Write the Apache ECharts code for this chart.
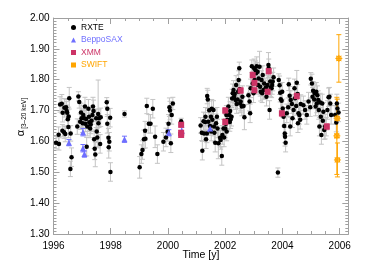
<!DOCTYPE html>
<html><head><meta charset="utf-8">
<script src="https://cdn.jsdelivr.net/npm/echarts@6/dist/echarts.min.js"></script>
<style>html,body{margin:0;padding:0;background:#fff}#c{width:365px;height:269px}</style>
</head><body><div id="c"></div>
<script>
// [time (yr), alpha, error]
const rxte = [
[1996.09,1.596,0.02],[1996.19,1.592,0.02],[1996.18,1.622,0.025],[1996.23,1.720,0.025],[1996.29,1.722,0.03],
[1996.32,1.693,0.03],[1996.31,1.635,0.02],[1996.37,1.630,0.02],[1996.41,1.624,0.025],[1996.38,1.709,0.03],
[1996.44,1.711,0.025],[1996.46,1.699,0.03],[1996.48,1.693,0.025],[1996.50,1.672,0.03],[1996.52,1.647,0.035],
[1996.53,1.681,0.03],[1996.55,1.740,0.035],[1996.59,1.511,0.025],[1996.63,1.549,0.03],[1996.60,1.626,0.025],
[1996.87,1.746,0.015],[1996.90,1.728,0.02],[1996.83,1.648,0.025],[1996.93,1.664,0.025],[1996.96,1.694,0.03],
[1996.98,1.675,0.03],[1997.02,1.659,0.03],[1997.04,1.686,0.03],[1997.07,1.675,0.025],[1997.10,1.713,0.03],
[1997.14,1.673,0.03],[1997.11,1.657,0.025],[1997.16,1.583,0.03],[1997.18,1.648,0.03],[1997.22,1.706,0.03],
[1997.24,1.680,0.03],[1997.25,1.662,0.03],[1997.28,1.642,0.03],[1997.30,1.655,0.03],[1997.33,1.667,0.035],
[1997.36,1.686,0.03],[1997.38,1.713,0.03],[1997.40,1.699,0.035],[1997.42,1.607,0.03],[1997.44,1.576,0.035],
[1997.46,1.558,0.04],[1997.49,1.675,0.03],[1997.51,1.632,0.035],[1997.53,1.613,0.03],[1997.56,1.689,0.11],
[1997.57,1.659,0.03],[1997.59,1.675,0.03],[1997.63,1.592,0.03],[1997.65,1.678,0.03],
[1997.86,1.727,0.015],[1997.88,1.706,0.025],[1997.88,1.657,0.03],[1997.92,1.612,0.03],[1997.93,1.581,0.035],
[1997.95,1.599,0.03],[1997.98,1.677,0.03],[1997.99,1.501,0.03],
[1998.48,1.689,0.01],
[1999.01,1.516,0.035],[1999.07,1.559,0.03],[1999.11,1.572,0.03],[1999.16,1.607,0.03],[1999.20,1.635,0.03],
[1999.21,1.609,0.03],[1999.26,1.715,0.025],[1999.33,1.657,0.03],[1999.39,1.657,0.03],[1999.47,1.706,0.03],
[1999.55,1.615,0.035],[1999.63,1.559,0.03],
[1999.84,1.599,0.03],[1999.93,1.613,0.03],[1999.99,1.631,0.03],[2000.02,1.657,0.03],[2000.05,1.711,0.03],
[2000.07,1.700,0.03],[2000.10,1.594,0.03],[2000.13,1.686,0.03],[2000.17,1.723,0.02],[2000.46,1.665,0.01],
[2001.14,1.652,0.025],[2001.18,1.628,0.025],[2001.20,1.570,0.03],[2001.24,1.665,0.03],[2001.26,1.626,0.025],
[2001.30,1.663,0.03],[2001.31,1.680,0.03],[2001.33,1.607,0.03],[2001.36,1.626,0.03],[2001.37,1.747,0.025],
[2001.39,1.736,0.03],[2001.41,1.664,0.03],[2001.44,1.701,0.03],[2001.47,1.650,0.03],[2001.50,1.680,0.03],
[2001.51,1.632,0.03],[2001.53,1.706,0.03],[2001.55,1.670,0.03],[2001.59,1.702,0.03],[2001.61,1.648,0.03],
[2001.62,1.628,0.03],[2001.65,1.596,0.03],[2001.68,1.659,0.03],[2001.71,1.680,0.03],[2001.73,1.642,0.03],
[2001.76,1.594,0.05],[2001.82,1.612,0.03],
[2001.84,1.605,0.03],[2001.88,1.553,0.03],[2001.90,1.621,0.03],[2001.94,1.642,0.03],[2001.96,1.613,0.03],
[2002.00,1.642,0.03],[2002.02,1.657,0.03],[2002.04,1.686,0.03],[2002.05,1.632,0.03],[2002.08,1.670,0.03],
[2002.11,1.713,0.03],[2002.14,1.686,0.03],[2002.16,1.663,0.03],[2002.17,1.699,0.03],[2002.19,1.672,0.03],
[2002.22,1.680,0.03],[2002.24,1.739,0.03],[2002.26,1.756,0.03],[2002.29,1.767,0.03],[2002.31,1.745,0.03],
[2002.33,1.754,0.03],[2002.36,1.734,0.03],[2002.38,1.783,0.03],[2002.40,1.721,0.03],[2002.43,1.736,0.03],
[2002.45,1.761,0.03],[2002.47,1.799,0.03],[2002.49,1.837,0.02],[2002.50,1.769,0.03],[2002.52,1.723,0.03],
[2002.54,1.729,0.03],[2002.58,1.713,0.03],[2002.60,1.745,0.035],[2002.64,1.715,0.03],[2002.67,1.678,0.04],
[2002.81,1.750,0.03],[2002.85,1.729,0.03],[2002.87,1.691,0.03],[2002.89,1.772,0.03],[2002.93,1.844,0.02],
[2002.95,1.815,0.03],[2002.96,1.788,0.03],[2002.99,1.756,0.03],[2003.01,1.837,0.03],[2003.03,1.799,0.03],
[2003.06,1.831,0.03],[2003.08,1.821,0.03],[2003.10,1.844,0.03],[2003.13,1.826,0.03],[2003.15,1.783,0.03],
[2003.17,1.804,0.04],[2003.20,1.842,0.05],[2003.22,1.777,0.03],[2003.24,1.761,0.03],[2003.27,1.799,0.03],
[2003.29,1.756,0.03],[2003.31,1.815,0.03],[2003.34,1.767,0.03],[2003.36,1.788,0.03],[2003.40,1.767,0.03],
[2003.42,1.775,0.03],[2003.44,1.745,0.03],[2003.48,1.783,0.03],[2003.51,1.848,0.04],[2003.52,1.837,0.03],
[2003.55,1.702,0.03],[2003.57,1.794,0.03],[2003.59,1.775,0.03],[2003.62,1.772,0.03],[2003.64,1.783,0.03],
[2003.66,1.794,0.03],[2003.69,1.808,0.03],
[2003.84,1.499,0.015],[2003.87,1.799,0.02],[2003.90,1.782,0.03],[2003.92,1.758,0.03],[2003.94,1.737,0.03],
[2003.97,1.732,0.03],[2003.99,1.761,0.03],[2004.01,1.707,0.03],[2004.04,1.680,0.03],[2004.06,1.650,0.03],
[2004.08,1.626,0.03],[2004.09,1.615,0.03],[2004.11,1.596,0.03],[2004.15,1.691,0.03],[2004.20,1.711,0.03],
[2004.22,1.785,0.02],[2004.25,1.748,0.03],[2004.27,1.648,0.03],[2004.29,1.734,0.03],[2004.33,1.721,0.03],
[2004.35,1.675,0.03],[2004.39,1.702,0.03],[2004.42,1.772,0.03],[2004.44,1.740,0.03],[2004.48,1.715,0.03],
[2004.50,1.790,0.04],[2004.53,1.754,0.03],[2004.54,1.659,0.03],[2004.56,1.691,0.03],[2004.59,1.686,0.03],
[2004.62,1.670,0.03],[2004.64,1.721,0.03],
[2004.73,1.717,0.03],[2004.79,1.702,0.03],[2004.85,1.686,0.03],[2004.91,1.729,0.03],[2004.97,1.711,0.03],
[2004.99,1.803,0.02],[2005.03,1.788,0.03],[2005.05,1.745,0.03],[2005.07,1.764,0.03],[2005.11,1.736,0.03],
[2005.13,1.756,0.03],[2005.16,1.713,0.03],[2005.18,1.761,0.03],[2005.20,1.723,0.03],[2005.22,1.750,0.03],
[2005.25,1.734,0.03],[2005.27,1.702,0.03],[2005.29,1.648,0.03],[2005.32,1.726,0.03],[2005.34,1.680,0.03],
[2005.36,1.621,0.03],[2005.39,1.723,0.03],[2005.41,1.667,0.03],[2005.43,1.696,0.03],[2005.46,1.637,0.03],
[2005.49,1.648,0.04],[2005.53,1.648,0.03],[2005.57,1.702,0.03],[2005.61,1.743,0.03],[2005.64,1.745,0.03],
[2005.67,1.723,0.03],[2005.70,1.686,0.03],
[2005.84,1.686,0.03],[2005.88,1.661,0.03],[2005.90,1.723,0.03],[2005.92,1.707,0.03],[2005.96,1.694,0.03]
];
const beppo = [
[1996.54,1.596,0.01],[1997.03,1.630,0.012],[1997.03,1.578,0.012],[1997.08,1.559,0.01],
[1998.48,1.607,0.01],[2000.03,1.628,0.01],[2000.48,1.635,0.01],[2001.47,1.642,0.01]
];
const xmm = [
[2000.46,1.654,0.008],[2000.46,1.628,0.008],[2000.46,1.621,0.008],[2002.00,1.700,0.01],[2002.00,1.663,0.01],
[2002.54,1.765,0.01],[2002.96,1.815,0.01],[2003.02,1.790,0.01],[2003.02,1.766,0.01],[2003.48,1.761,0.01],
[2003.52,1.828,0.01],[2003.98,1.691,0.01],[2004.50,1.747,0.01],[2005.55,1.648,0.01]
];
const swift = [
[2005.97,1.869,0.077],[2005.91,1.675,0.062],[2005.90,1.618,0.125],[2005.92,1.540,0.055]
];
const xTicks = {min:1996, max:2006.3, interval:2};
const yTicks = {min:1.30, max:2.00, interval:0.1};

const C = {rxte:'#000000', beppo:'#6f6fff', xmm:'#cc3366', swift:'#ffa500'};
const starPath = 'path://M0,5L10,5M5,0L5,10M1.5,1.5L8.5,8.5M8.5,1.5L1.5,8.5M2,2L8,2L8,8L2,8Z';

function errSeries(arr, color, z){
  return {
    type:'custom', silent:true, z:z, legendHoverLink:false,
    data: arr.map(d=>[d[0], d[1]-d[2], d[1]+d[2]]),
    encode:{x:0, y:[1,2]},
    renderItem:function(params, api){
      const lo = api.coord([api.value(0), api.value(1)]);
      const hi = api.coord([api.value(0), api.value(2)]);
      const w = 2.5;
      const st = {stroke:color, lineWidth:1};
      return {type:'group', children:[
        {type:'line', shape:{x1:lo[0],y1:lo[1],x2:hi[0],y2:hi[1]}, style:st},
        {type:'line', shape:{x1:lo[0]-w,y1:lo[1],x2:lo[0]+w,y2:lo[1]}, style:st},
        {type:'line', shape:{x1:hi[0]-w,y1:hi[1],x2:hi[0]+w,y2:hi[1]}, style:st}
      ]};
    }
  };
}

const axisLineStyle = {color:'#a0a0a0', width:1};
const font = 'Liberation Sans';
const chart = echarts.init(document.getElementById('c'), null, {renderer:'canvas'});
chart.setOption({
  animation:false,
  backgroundColor:'#fff',
  grid:{left:53.5, right:16.7, top:18, bottom:35},
  legend:{
    orient:'vertical', left:65, top:18, itemWidth:5, itemHeight:5, itemGap:3.5,
    textStyle:{fontFamily:font, fontSize:8.5},
    data:[
      {name:'RXTE', textStyle:{color:C.rxte}},
      {name:'BeppoSAX', textStyle:{color:C.beppo}},
      {name:'XMM', textStyle:{color:C.xmm}},
      {name:'SWIFT', textStyle:{color:C.swift}}
    ]
  },
  xAxis:[{
    type:'value', min:xTicks.min, max:xTicks.max, interval:xTicks.interval,
    name:'Time [y]', nameLocation:'middle', nameGap:16, nameMoveOverlap:false,
    nameTextStyle:{fontFamily:font, fontSize:10.5, color:'#000'},
    axisLine:{onZero:false, lineStyle:axisLineStyle},
    axisTick:{inside:true, length:6, lineStyle:axisLineStyle},
    minorTick:{show:true, splitNumber:4, length:3, lineStyle:axisLineStyle},
    splitLine:{show:false},
    axisLabel:{fontFamily:font, fontSize:10, color:'#000', margin:7, showMaxLabel:false,
      formatter:v=> (Math.abs(v-Math.round(v))<1e-6 ? String(Math.round(v)) : '')}
  },{
    type:'value', position:'top', min:xTicks.min, max:xTicks.max, interval:xTicks.interval,
    axisLine:{onZero:false, lineStyle:axisLineStyle},
    axisTick:{inside:true, length:6, lineStyle:axisLineStyle},
    minorTick:{show:true, splitNumber:4, length:3, lineStyle:axisLineStyle},
    splitLine:{show:false}, axisLabel:{show:false}
  }],
  yAxis:[{
    type:'value', min:yTicks.min, max:yTicks.max, interval:yTicks.interval,
    name:'{a|α}{s|[3–20 keV]}', nameLocation:'middle', nameGap:26, nameRotate:90, nameMoveOverlap:false,
    nameTextStyle:{color:'#000', padding:[0,0,0,18], rich:{
      a:{fontFamily:font, fontSize:11, color:'#000'},
      s:{fontFamily:font, fontSize:6.5, color:'#000', padding:[7,0,0,1]}
    }},
    axisLine:{onZero:false, lineStyle:axisLineStyle},
    axisTick:{inside:true, length:6, lineStyle:axisLineStyle},
    minorTick:{show:true, splitNumber:10, length:3, lineStyle:axisLineStyle},
    splitLine:{show:false},
    axisLabel:{fontFamily:font, fontSize:10, color:'#000', margin:4, formatter:v=>v.toFixed(2)}
  },{
    type:'value', position:'right', min:yTicks.min, max:yTicks.max, interval:yTicks.interval,
    axisLine:{onZero:false, lineStyle:axisLineStyle},
    axisTick:{inside:true, length:6, lineStyle:axisLineStyle},
    minorTick:{show:true, splitNumber:10, length:3, lineStyle:axisLineStyle},
    splitLine:{show:false}, axisLabel:{show:false}
  }],
  series:[
    errSeries(rxte, '#c4c4c4', 1),
    errSeries(beppo, C.beppo, 2),
    errSeries(xmm, '#e07898', 2),
    errSeries(swift, C.swift, 2),
    {name:'RXTE', type:'scatter', z:5, symbol:'circle', symbolSize:4.5,
      itemStyle:{color:C.rxte, opacity:1}, data:rxte.map(d=>[d[0],d[1]])},
    {name:'BeppoSAX', type:'scatter', z:6, symbol:'triangle', symbolSize:6,
      itemStyle:{color:C.beppo, opacity:1}, data:beppo.map(d=>[d[0],d[1]])},
    {name:'XMM', type:'scatter', z:7, symbol:'rect', symbolSize:6,
      itemStyle:{color:C.xmm, opacity:1}, data:xmm.map(d=>[d[0],d[1]])},
    {name:'SWIFT', type:'scatter', z:8, symbol:starPath, symbolSize:7,
      itemStyle:{color:'rgba(255,165,0,0.2)', borderColor:C.swift, borderWidth:1, opacity:1},
      data:swift.map(d=>[d[0],d[1]])}
  ]
});
</script></body></html>
